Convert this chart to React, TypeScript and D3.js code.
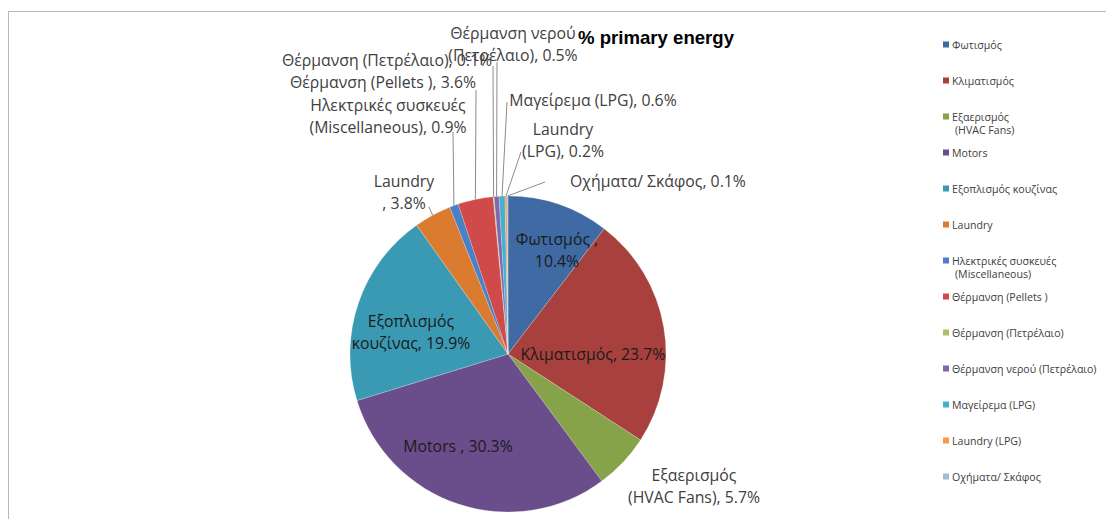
import React, { useEffect, useRef } from 'react';
import * as d3 from 'd3';

// data
const categories = [
  'Φωτισμός ',
  'Κλιματισμός',
  'Εξαερισμός (HVAC Fans)',
  'Motors ',
  'Εξοπλισμός κουζίνας',
  'Laundry ',
  'Ηλεκτρικές συσκευές (Miscellaneous)',
  'Θέρμανση (Pellets )',
  'Θέρμανση (Πετρέλαιο)',
  'Θέρμανση νερού (Πετρέλαιο)',
  'Μαγείρεμα (LPG)',
  'Laundry (LPG)',
  'Οχήματα/ Σκάφος',
];
const shares = [10.4, 23.7, 5.7, 30.3, 19.9, 3.8, 0.9, 3.6, 0.1, 0.5, 0.6, 0.2, 0.1];
const colors = [
  '#3F6AA3', '#A8413E', '#86A349', '#6A4D8B', '#3A9AB3', '#DA7B30',
  '#4A80C6', '#CF4A48', '#A6C26B', '#8467AB', '#45B1CE', '#F59A4D', '#A8B9D6',
];
const title = '% primary energy';
// legend entries whose text wraps onto a second line
const legendWrap = [2, 6];

// label layout: centre x, first baseline y, word index of line break, leader start
interface LabelPos { x: number; y: number; br: number; inside: boolean; lead?: [number, number] }
const labelLayout: LabelPos[] = [
  { x: 557, y: 245, br: 2, inside: true },
  { x: 593, y: 360, br: 99, inside: true },
  { x: 694, y: 481, br: 1, inside: false },
  { x: 458, y: 452, br: 99, inside: true },
  { x: 411, y: 327, br: 1, inside: true },
  { x: 404, y: 187, br: 1, inside: false, lead: [429, 207] },
  { x: 388, y: 111, br: 2, inside: false, lead: [453, 132] },
  { x: 383, y: 88, br: 99, inside: false, lead: [476, 90] },
  { x: 387, y: 66, br: 99, inside: false, lead: [493, 66] },
  { x: 513, y: 39, br: 2, inside: false, lead: [497, 62] },
  { x: 593, y: 106, br: 99, inside: false, lead: [507, 102] },
  { x: 563, y: 135, br: 1, inside: false, lead: [521, 152] },
  { x: 658, y: 187, br: 99, inside: false, lead: [545, 182] },
];

const W = 1114;
const H = 527;
const cx = 508;
const cy = 354;
const R = 158;
const labelFont = '"Open Sans", sans-serif';

const App: React.FC = () => {
  const svgRef = useRef<SVGSVGElement>(null);

  useEffect(() => {
    const svg = d3.select(svgRef.current).attr('width', W).attr('height', H).html('');

    // chart frame
    svg.append('rect')
      .attr('x', 8.5).attr('y', 11.5)
      .attr('width', W + 20).attr('height', H + 20)
      .attr('fill', '#fff').attr('stroke', '#b8b8b8').attr('stroke-width', 1);

    const data = shares.map((v, i) => ({ cat: categories[i], v, i }));
    const pie = d3.pie<{ cat: string; v: number; i: number }>()
      .value(d => d.v).sort(null);
    const arcs = pie(data);
    const arc = d3.arc<d3.PieArcDatum<{ cat: string; v: number; i: number }>>()
      .innerRadius(0).outerRadius(R);

    const g = svg.append('g').attr('transform', `translate(${cx},${cy})`);
    g.selectAll('path.slice')
      .data(arcs).enter().append('path')
        .attr('class', 'slice')
        .attr('d', arc)
        .attr('fill', d => colors[d.data.i])
        .attr('stroke', '#ffffff')
        .attr('stroke-opacity', 0.35)
        .attr('stroke-width', 0.6);

    // leader lines
    const lines = svg.append('g');
    arcs.forEach(a => {
      const lp = labelLayout[a.data.i];
      if (!lp.lead) return;
      const mid = (a.startAngle + a.endAngle) / 2;
      const ex = cx + R * Math.sin(mid);
      const ey = cy - R * Math.cos(mid);
      lines.append('line')
        .attr('x1', lp.lead[0]).attr('y1', lp.lead[1])
        .attr('x2', ex).attr('y2', ey)
        .attr('stroke', '#8c8c8c').attr('stroke-width', 1);
    });

    // data labels
    const labels = svg.append('g')
      .attr('font-family', labelFont).attr('font-size', 15.8).attr('text-anchor', 'middle');
    data.forEach(d => {
      const lp = labelLayout[d.i];
      const words = `${d.cat}, ${d.v.toFixed(1)}%`.replace(/\s+/g, ' ').split(' ');
      const rows = [words.slice(0, lp.br).join(' '), words.slice(lp.br).join(' ')].filter(s => s.length);
      const t = labels.append('text')
        .attr('fill', lp.inside ? '#1b1b1b' : '#404040');
      rows.forEach((r, k) => {
        t.append('tspan').attr('x', lp.x).attr('y', lp.y + k * 21.5).text(r);
      });
    });

    // title
    svg.append('text')
      .attr('x', 656).attr('y', 44)
      .attr('text-anchor', 'middle')
      .attr('font-family', '"Liberation Sans", Arial, sans-serif')
      .attr('font-weight', 'bold').attr('font-size', 18.6)
      .attr('fill', '#000')
      .text(title);

    // legend
    const leg = svg.append('g').attr('font-family', labelFont).attr('font-size', 10.6).attr('fill', '#404040');
    const legY = d3.scaleLinear().domain([0, categories.length - 1]).range([45, 477]);
    categories.forEach((c, i) => {
      const y = legY(i);
      leg.append('rect')
        .attr('x', 943).attr('y', y - 3.5)
        .attr('width', 6).attr('height', 6)
        .attr('fill', colors[i]);
      const txt = c.trim();
      const rows = legendWrap.includes(i)
        ? [txt.slice(0, txt.indexOf(' (')), txt.slice(txt.indexOf(' (') + 1)]
        : [txt];
      rows.forEach((r, k) => {
        leg.append('text')
          .attr('x', k ? 955 : 952).attr('y', y + 3.5 + k * 13.5)
          .text(r);
      });
    });
  }, []);

  return (
    <div>
      <svg ref={svgRef} style={{ display: 'block', margin: -8 }} />
    </div>
  );
};

export default App;
